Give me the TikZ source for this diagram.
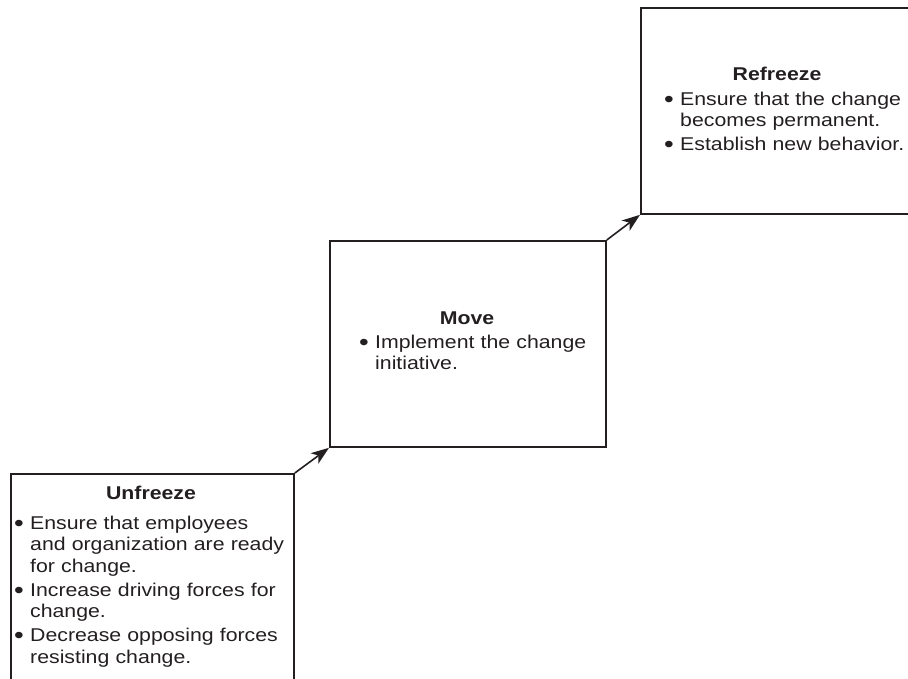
\documentclass[tikz,border=0pt]{standalone}
\usepackage{fontspec}
\usepackage{graphicx}
\setmainfont{Liberation Sans}[FakeStretch=1.15]
\usetikzlibrary{arrows.meta}

\definecolor{ink}{HTML}{231F20}

% one bullet point; the wrapped lines stay under the first word
\newlength{\bulletw}
\setlength{\bulletw}{16pt}
\newcommand{\bitem}[1]{\makebox[\bulletw][l]{\raisebox{-2pt}{\scalebox{1.3}{\textbullet}}}%
    \begin{tabular}[t]{@{}l@{}}#1\end{tabular}\par}

\begin{document}
\begin{tikzpicture}[x=1pt, y=-1pt,
    stage/.style={draw=ink, line width=1.8pt, inner sep=0pt, anchor=north west},
    heading/.style={font=\fontsize{18.5}{21.5}\selectfont\bfseries, text=ink, anchor=base, inner sep=0pt},
    points/.style={font=\fontsize{18.5}{21.5}\selectfont, text=ink, text width=280pt, align=left,
        anchor=base west, inner sep=0pt, execute at begin node=\setlength{\parskip}{1.5pt}},
    flow/.style={-{Stealth[length=18pt, width=13pt, inset=5pt]}, draw=ink, line width=1.6pt}]
    \useasboundingbox (0,0) rectangle (908,678);

    % the three stages
    \node[stage, minimum width=283, minimum height=230] (unfreeze) at (10,473) {};
    \node[stage, minimum width=276, minimum height=206] (move) at (329,240) {};
    \node[stage, minimum width=300, minimum height=206] (refreeze) at (640,7) {};

    \node[heading] (unfreezeH) at (151,499) {Unfreeze};
    \node[points] (unfreezeL) at (14,529) {%
        \bitem{Ensure that employees\\ and organization are ready\\ for change.}
        \bitem{Increase driving forces for\\ change.}
        \bitem{Decrease opposing forces\\ resisting change.}};

    \node[heading] (moveH) at (467,324) {Move};
    \node[points] (moveL) at (359,348) {%
        \bitem{Implement the change\\ initiative.}};

    \node[heading] (refreezeH) at (777,80) {Refreeze};
    \node[points] (refreezeL) at (664,105) {%
        \bitem{Ensure that the change\\ becomes permanent.}
        \bitem{Establish new behavior.}};

    \draw[flow] (unfreeze.north east) -- (move.south west);
    \draw[flow] (move.north east) -- (refreeze.south west);
\end{tikzpicture}
\end{document}
